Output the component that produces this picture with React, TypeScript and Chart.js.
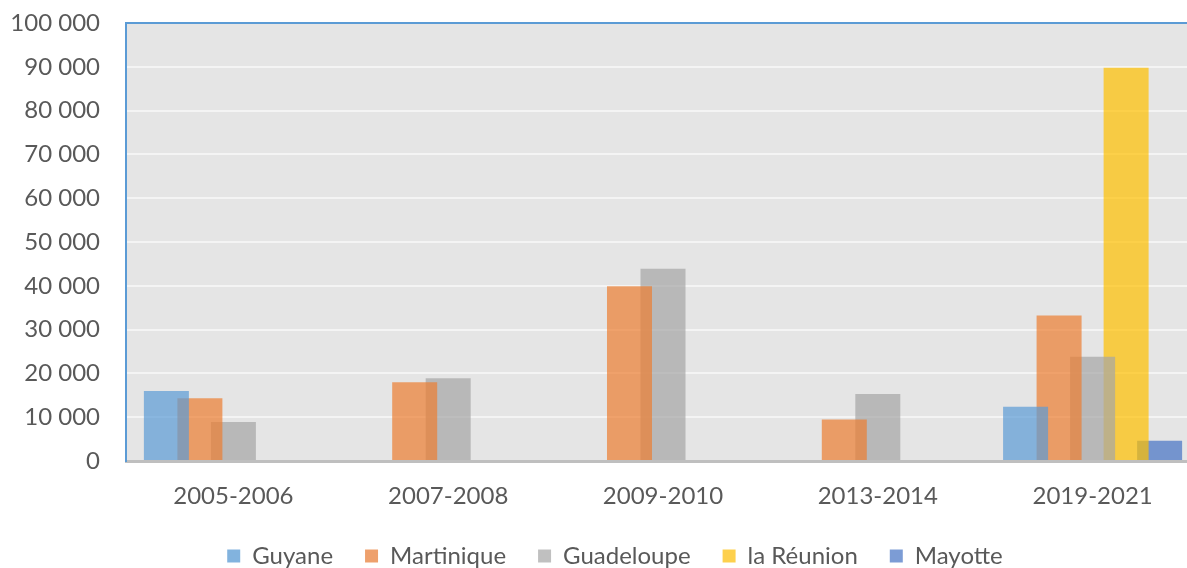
import React, { useEffect, useRef } from "react";
import { Chart, registerables } from "chart.js";

Chart.register(...registerables);

const periods = ["2005-2006", "2007-2008", "2009-2010", "2013-2014", "2019-2021"];
const seriesNames = ["Guyane", "Martinique", "Guadeloupe", "la Réunion", "Mayotte"];
const guyane = [16000, null, null, null, 12400];
const martinique = [14300, 18000, 39900, 9500, 33200];
const guadeloupe = [8900, 18900, 43900, 15300, 23800];
const reunion = [null, null, null, null, 89800];
const mayotte = [null, null, null, null, 4600];
const yMin = 0;
const yMax = 100000;
const yStep = 10000;

const barColors = [
  "rgba(91,155,213,0.7)",
  "rgba(237,125,49,0.7)",
  "rgba(165,165,165,0.7)",
  "rgba(255,192,0,0.7)",
  "rgba(68,114,196,0.7)",
];
const legendColors = ["#82b3de", "#eea06c", "#c0c0c0", "#fdd04d", "#7c9cd5"];

const fmt = (v: number) => String(v).replace(/\B(?=(\d{3})+(?!\d))/g, " ");

const plotBg = {
  id: "plotBg",
  beforeDraw(chart: any) {
    const { ctx, chartArea } = chart;
    ctx.save();
    ctx.fillStyle = "#e5e5e5";
    ctx.fillRect(chartArea.left, chartArea.top, chartArea.right - chartArea.left, chartArea.bottom - chartArea.top);
    ctx.restore();
  },
  beforeDatasetsDraw(chart: any) {
    const { ctx, chartArea } = chart;
    ctx.save();
    ctx.strokeStyle = "#5b9bd5";
    ctx.lineWidth = 2;
    ctx.beginPath();
    ctx.moveTo(chartArea.left - 1, chartArea.top);
    ctx.lineTo(chartArea.right, chartArea.top);
    ctx.stroke();
    ctx.restore();
  },
};

export default function App() {
  const ref = useRef<HTMLCanvasElement | null>(null);
  useEffect(() => {
    if (!ref.current) return;
    const values = [guyane, martinique, guadeloupe, reunion, mayotte];
    const chart = new Chart(ref.current, {
      type: "bar",
      data: {
        labels: periods,
        datasets: seriesNames.map((name, i) => ({
          label: name,
          data: values[i],
          backgroundColor: barColors[i],
          borderWidth: 0,
          categoryPercentage: 0.78,
          barPercentage: 1.343,
        })),
      },
      options: {
        responsive: false,
        animation: false,
        devicePixelRatio: 1,
        layout: { padding: { top: 23, left: 0, right: 0, bottom: 0 } },
        plugins: {
          tooltip: { enabled: false },
          legend: {
            position: "bottom",
            labels: {
              boxWidth: 13,
              boxHeight: 13,
              padding: 32,
              color: "#595959",
              font: { family: "Lato", size: 24 },
              generateLabels: (chart: any) =>
                chart.data.datasets.map((d: any, i: number) => ({
                  text: d.label,
                  fillStyle: legendColors[i],
                  strokeStyle: legendColors[i],
                  lineWidth: 0,
                  hidden: false,
                  datasetIndex: i,
                  fontColor: "#595959",
                })),
            },
          },
        },
        scales: {
          x: {
            grid: { display: false, drawTicks: false },
            border: { display: true, color: "#bfbfbf", width: 3 },
            ticks: { color: "#595959", font: { family: "Lato", size: 24 }, padding: 21, maxRotation: 0 },
            afterFit: (s: any) => {
              s.height = 51;
            },
          },
          y: {
            min: yMin,
            max: yMax,
            grid: { color: "#f4f4f4", lineWidth: 2, drawTicks: true, tickLength: 26, tickColor: "rgba(0,0,0,0)" },
            border: { display: true, color: "#5b9bd5", width: 2 },
            ticks: {
              stepSize: yStep,
              color: "#595959",
              font: { family: "Lato", size: 24 },
              padding: 0,
              callback: (v: any) => fmt(Number(v)),
            },
            afterFit: (s: any) => {
              s.width = 126;
            },
          },
          yRight: {
            position: "right",
            display: true,
            grid: { display: false, drawTicks: false },
            border: { display: false },
            ticks: { display: false },
            afterFit: (s: any) => {
              s.width = 30;
            },
          },
        },
      },
      plugins: [plotBg],
    });
    return () => chart.destroy();
  }, []);
  return (
    <div style={{ position: "fixed", left: 0, top: 0, width: 1230, height: 578, background: "#fff" }}>
      <canvas ref={ref} width={1230} height={578} />
    </div>
  );
}
